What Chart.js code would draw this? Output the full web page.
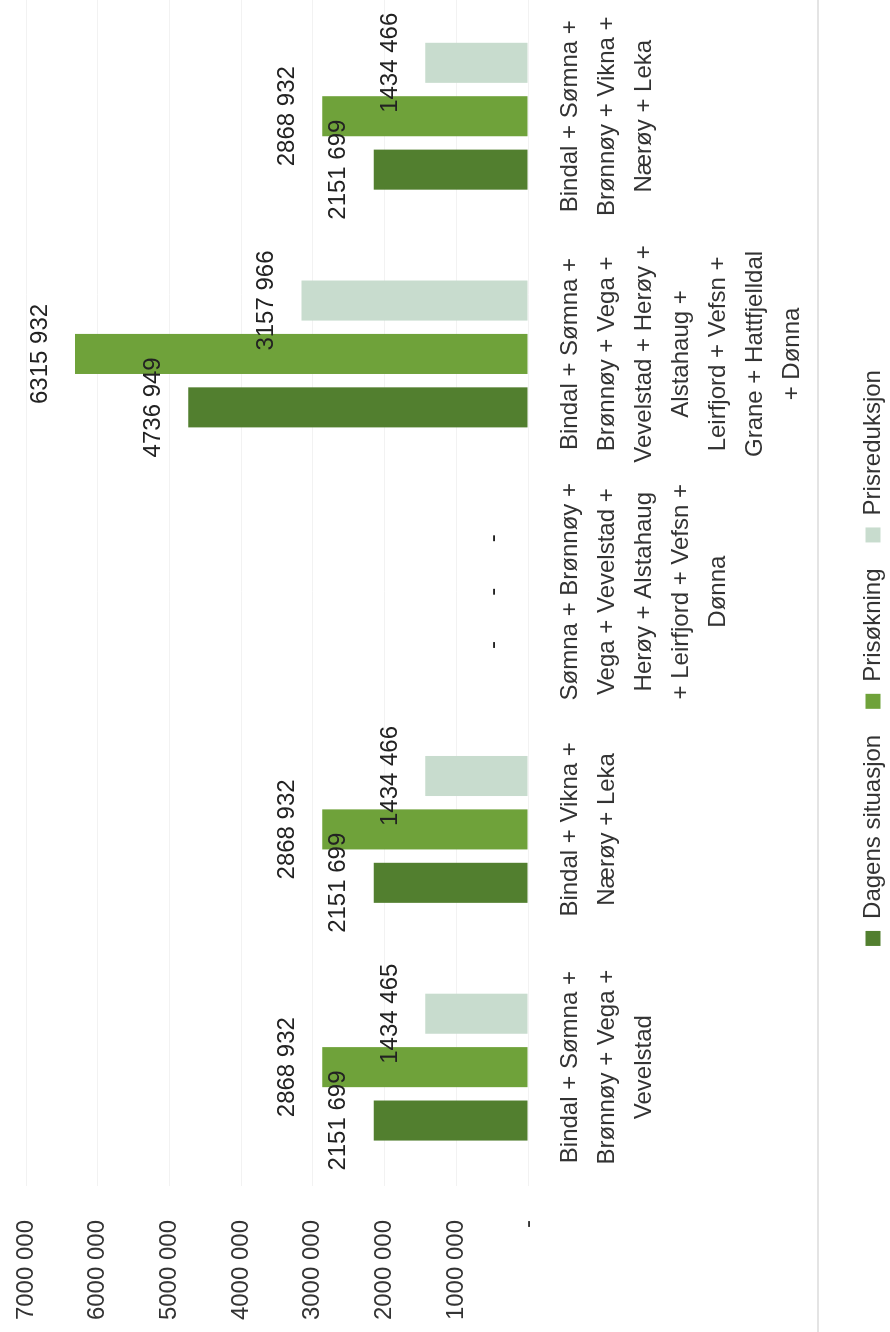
<!DOCTYPE html>
<html>
<head>
<meta charset="utf-8">
<script src="https://cdn.jsdelivr.net/npm/chart.js@4.4.1/dist/chart.umd.min.js"></script>
<style>
    html, body {
        margin: 0;
        padding: 0;
        background: #fff;
        width: 890px;
        height: 1332px;
        overflow: hidden;
    }
    /* the scanned page is turned a quarter turn, so the chart is drawn upright and turned the same way */
    #turn {
        position: absolute;
        left: 0;
        top: 0;
        width: 1340px;
        height: 896px;
        transform-origin: 0 0;
        transform: translate(0px, 1332px) rotate(-90deg);
    }
    #rule {
        position: absolute;
        left: 817px;
        top: 0;
        width: 2px;
        height: 1332px;
        background: #e4e4e4;
    }
</style>
</head>
<body>
<div id="turn"><canvas id="bar-chart-pris" width="1340" height="896"></canvas></div>
<div id="rule"></div>
<script>
const categories = [
    ["Bindal + Sømna +", "Brønnøy + Vega +", "Vevelstad"],
    ["Bindal + Vikna +", "Nærøy + Leka"],
    ["Sømna + Brønnøy +", "Vega + Vevelstad +", "Herøy + Alstahaug", "+ Leirfjord + Vefsn +", "Dønna"],
    ["Bindal + Sømna +", "Brønnøy + Vega +", "Vevelstad + Herøy +", "Alstahaug +", "Leirfjord + Vefsn +", "Grane + Hattfjelldal", "+ Dønna"],
    ["Bindal + Sømna +", "Brønnøy + Vikna +", "Nærøy + Leka"],
];
const seriesNames = ["Dagens situasjon", "Prisøkning", "Prisreduksjon"];
const dagensSituasjon = [2151699, 2151699, 0, 4736949, 2151699];
const prisokning = [2868932, 2868932, 0, 6315932, 2868932];
const prisreduksjon = [1434465, 1434466, 0, 3157966, 1434466];
const yMin = 0;
const yMax = 7000000;
const yStep = 1000000;

const colors = ["#527f2f", "#6fa23a", "#c8dcce"];
const fontFamily = "'Liberation Sans', Arial, sans-serif";

function formatValue(value) {
    if (value == 0) return "-";
    var s = String(Math.round(value));
    return s.slice(0, -3) + " " + s.slice(-3);
}

// value labels above each bar, like the spreadsheet's data labels
const valueLabels = {
    id: "valueLabels",
    afterDatasetsDraw(chart) {
        var ctx = chart.ctx;
        ctx.save();
        ctx.font = "24px " + fontFamily;
        ctx.fillStyle = "#222";
        ctx.textAlign = "center";
        ctx.textBaseline = "middle";
        chart.data.datasets.forEach(function (ds, i) {
            chart.getDatasetMeta(i).data.forEach(function (bar, j) {
                ctx.fillText(formatValue(ds.data[j]), bar.x, bar.y - 35);
            });
        });
        ctx.restore();
    },
};

var ctx = document.getElementById("bar-chart-pris").getContext("2d");

new Chart(ctx, {
    type: "bar",
    data: {
        labels: categories,
        datasets: [
            {
                label: seriesNames[0],
                data: dagensSituasjon,
                backgroundColor: colors[0],
            },
            {
                label: seriesNames[1],
                data: prisokning,
                backgroundColor: colors[1],
            },
            {
                label: seriesNames[2],
                data: prisreduksjon,
                backgroundColor: colors[2],
            },
        ],
    },
    options: {
        responsive: false,
        animation: false,
        devicePixelRatio: 1,
        categoryPercentage: 0.674,
        barPercentage: 0.75,
        layout: {
            padding: { left: 12, right: 4, top: 0, bottom: 1 },
        },
        scales: {
            x: {
                grid: { display: false, drawTicks: false },
                border: { display: false },
                ticks: {
                    color: "#333",
                    padding: 24,
                    maxRotation: 0,
                    minRotation: 0,
                    autoSkip: false,
                    font: { family: fontFamily, size: 24, lineHeight: 1.54 },
                },
                afterFit: function (scale) {
                    scale.height = 307;
                },
            },
            y: {
                min: yMin,
                max: yMax,
                grid: { color: "#f2f2f2", drawTicks: false },
                border: { display: false },
                ticks: {
                    stepSize: yStep,
                    color: "#333",
                    padding: 34,
                    font: { family: fontFamily, size: 24 },
                    callback: function (value) {
                        return formatValue(value);
                    },
                },
                afterFit: function (scale) {
                    scale.width = 134;
                    // the label gap should not push the plot down
                    scale.paddingTop = 26;
                    scale.paddingBottom = 14;
                },
            },
        },
        plugins: {
            legend: {
                position: "bottom",
                labels: {
                    color: "#333",
                    boxWidth: 15,
                    boxHeight: 15,
                    padding: 26,
                    font: { family: fontFamily, size: 24 },
                },
            },
            tooltip: { enabled: false },
        },
    },
    plugins: [valueLabels],
});
</script>
</body>
</html>
